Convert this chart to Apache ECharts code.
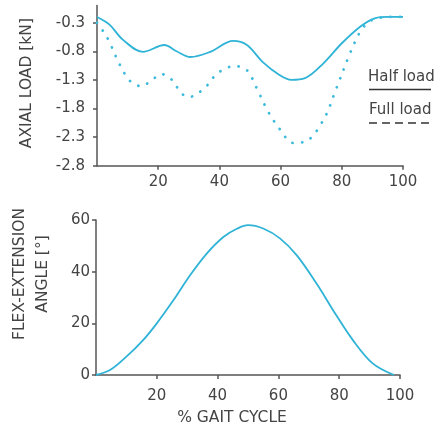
<!DOCTYPE html>
<html>
<head>
<meta charset="utf-8">
<script src="https://cdn.jsdelivr.net/npm/echarts@6/dist/echarts.min.js"></script>
<style>html,body{margin:0;padding:0;background:#fff}#c{width:442px;height:427px}</style>
</head>
<body>
<div id="c"></div>
<script>
// ---- data ----
const xTicks = [20, 40, 60, 80, 100];
const loadTicks = [-2.8, -2.3, -1.8, -1.3, -0.8, -0.3];
const angleTicks = [0, 20, 40, 60];

const halfX = [0, 4, 8.5, 15, 22, 26, 30.5, 37, 44.5, 49, 54, 59.5, 63.5, 68, 74, 80, 86, 91, 95, 100];
const halfY = [-0.2, -0.33, -0.6, -0.81, -0.69, -0.8, -0.9, -0.81, -0.62, -0.69, -0.98, -1.21, -1.3, -1.27, -1.01, -0.66, -0.37, -0.22, -0.2, -0.2];

const fullX = [0, 2, 4, 7.5, 11, 14.5, 18, 21, 24.5, 27.5, 30, 35, 39.5, 45, 49, 52.5, 56, 60, 64, 68, 74, 78, 82.5, 86, 89, 92, 96, 102];
const fullY = [-0.3, -0.45, -0.63, -1.04, -1.33, -1.41, -1.3, -1.2, -1.3, -1.53, -1.6, -1.45, -1.18, -1.06, -1.13, -1.48, -1.86, -2.18, -2.4, -2.38, -2.0, -1.48, -0.86, -0.46, -0.28, -0.22, -0.2, -0.2];

const angleX = [0, 4.6, 10, 15.5, 20, 25.5, 31, 36.5, 42, 46.5, 50, 55, 60.5, 66, 72.5, 79, 84.5, 91, 98];
const angleY = [0, 1.9, 7.1, 13.5, 20, 29, 38.7, 47.1, 53.5, 56.7, 58, 56.7, 52.9, 46.4, 35.5, 23.2, 13.5, 4.5, 0];

const seriesNames = ['Half load', 'Full load'];
// --------------

const pair = (xs, ys) => xs.map((x, i) => [x, ys[i]]);
const FONT = 'DejaVu Sans';
const TXT = '#444';
const AX = '#555';
const CYAN = '#2fb3d6';

const axisLine = { show: true, onZero: false, lineStyle: { color: AX, width: 1.5 } };
const axisTick = (vals) => ({ show: true, length: 4, lineStyle: { color: AX, width: 1.5 }, customValues: vals });

const chart = echarts.init(document.getElementById('c'), null, { renderer: 'canvas' });
chart.setOption({
  animation: false,
  backgroundColor: '#fff',
  grid: [
    { left: 97, right: 39, top: 5.5, height: 160.2 },
    { left: 96, right: 42, top: 220, height: 155 }
  ],
  xAxis: [
    {
      gridIndex: 0, type: 'value', min: 0, max: 100, interval: 20,
      axisLine, axisTick: axisTick(xTicks), splitLine: { show: false },
      axisLabel: { customValues: xTicks, margin: 9, color: TXT, fontFamily: FONT, fontSize: 15 }
    },
    {
      gridIndex: 1, type: 'value', min: 0, max: 100, interval: 20,
      axisLine, axisTick: axisTick(xTicks), splitLine: { show: false },
      axisLabel: { customValues: xTicks, margin: 14, color: TXT, fontFamily: FONT, fontSize: 15 }
    }
  ],
  yAxis: [
    {
      gridIndex: 0, type: 'value', min: -2.8, max: 0, interval: 0.5,
      axisLine, axisTick: axisTick(loadTicks), splitLine: { show: false },
      axisLabel: { customValues: loadTicks, margin: 12, color: TXT, fontFamily: FONT, fontSize: 15,
        formatter: v => v.toFixed(1) },
      name: 'AXIAL LOAD [kN]', nameLocation: 'middle', nameGap: 62, nameRotate: 90,
      nameTextStyle: { color: TXT, fontFamily: FONT, fontSize: 15.5, padding: [0, 0, 0, 5] }
    },
    {
      gridIndex: 1, type: 'value', min: 0, max: 60, interval: 20,
      axisLine, axisTick: axisTick(angleTicks), splitLine: { show: false },
      axisLabel: { customValues: angleTicks, margin: 6, color: TXT, fontFamily: FONT, fontSize: 15 }
    }
  ],
  series: [
    {
      name: seriesNames[0], type: 'line', xAxisIndex: 0, yAxisIndex: 0,
      data: pair(halfX, halfY), smooth: 0.35, showSymbol: false,
      lineStyle: { color: CYAN, width: 1.8 }
    },
    {
      name: seriesNames[1], type: 'line', xAxisIndex: 0, yAxisIndex: 0,
      data: pair(fullX, fullY), smooth: 0.35, showSymbol: false, clip: false,
      lineStyle: { color: '#3dbbdb', width: 2.8, type: [0.1, 9.5], cap: 'round' }
    },
    {
      name: 'Flex-extension angle', type: 'line', xAxisIndex: 1, yAxisIndex: 1,
      data: pair(angleX, angleY), smooth: 0.35, showSymbol: false,
      lineStyle: { color: CYAN, width: 1.8 }
    }
  ],
  graphic: [
    { type: 'text', left: 368, top: 70, style: { text: seriesNames[0], fill: TXT, font: '15px "DejaVu Sans"' } },
    { type: 'line', shape: { x1: 369, y1: 89.5, x2: 431, y2: 89.5 }, style: { stroke: '#333', lineWidth: 1.6 } },
    { type: 'text', left: 369, top: 103, style: { text: seriesNames[1], fill: TXT, font: '15px "DejaVu Sans"' } },
    { type: 'line', shape: { x1: 369, y1: 123, x2: 429, y2: 123 }, style: { stroke: '#333', lineWidth: 1.6, lineDash: [8, 5] } },
    { type: 'text', x: 232, y: 418, style: { text: '% GAIT CYCLE', fill: TXT, font: '15.5px "DejaVu Sans"', align: 'center', verticalAlign: 'middle' } },
    { type: 'text', x: 31.5, y: 274, rotation: Math.PI / 2,
      style: { text: 'FLEX-EXTENSION\nANGLE [°]', fill: TXT, font: '15.5px "DejaVu Sans"', align: 'center', verticalAlign: 'middle', lineHeight: 23 } }
  ]
});
</script>
</body>
</html>
